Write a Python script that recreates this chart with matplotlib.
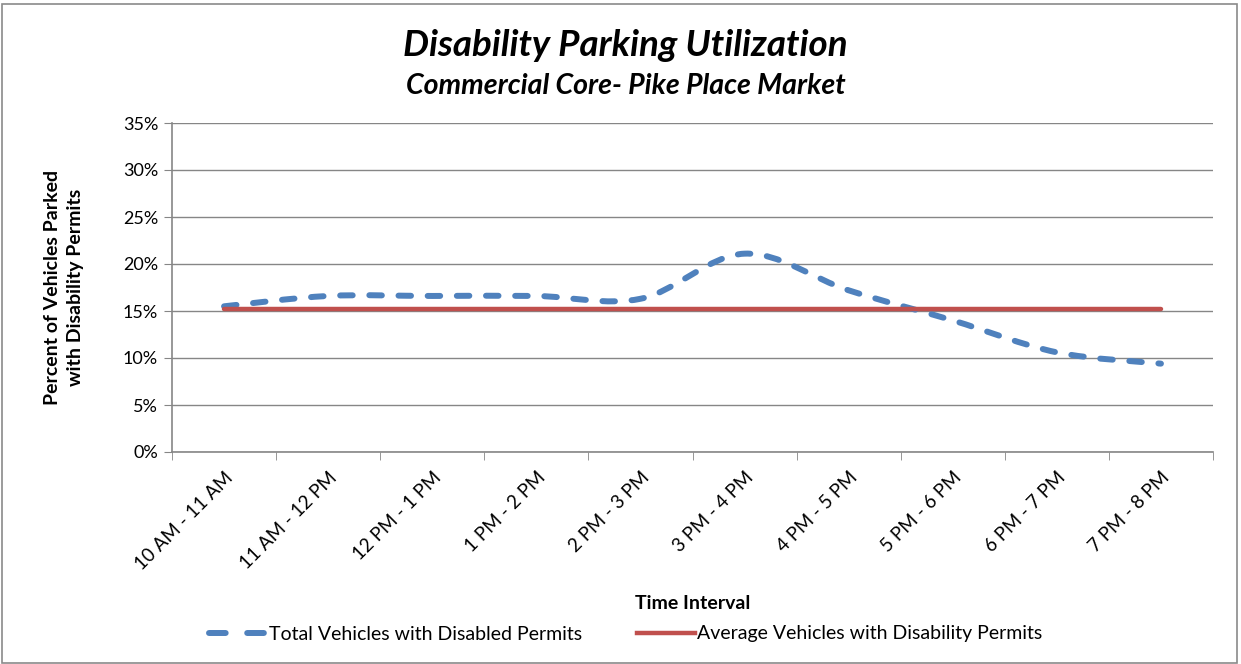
import matplotlib
matplotlib.use("Agg")
import matplotlib.pyplot as plt
from matplotlib.path import Path
from matplotlib.patches import PathPatch, Rectangle
from matplotlib.lines import Line2D
import numpy as np

plt.rcParams["font.family"] = ["Lato", "DejaVu Sans"]
plt.rcParams["lines.scale_dashes"] = False

intervals = ["10 AM - 11 AM", "11 AM - 12 PM", "12 PM - 1 PM", "1 PM - 2 PM",
             "2 PM - 3 PM", "3 PM - 4 PM", "4 PM - 5 PM", "5 PM - 6 PM",
             "6 PM - 7 PM", "7 PM - 8 PM"]
total_pct = [15.5, 16.6, 16.6, 16.6, 16.3, 21.1, 17.2, 14.0, 10.6, 9.4]
average_pct = [15.2] * 10

blue = "#4F81BD"
red = "#C0504D"
grid_c = "#868686"


def smooth_path(xs, ys):
    # Excel-style smoothed line as cubic bezier segments
    pts = np.column_stack([xs, ys]).astype(float)
    n = len(pts)
    verts = [pts[0]]
    codes = [Path.MOVETO]
    for i in range(n - 1):
        p0 = pts[i - 1] if i > 0 else pts[i]
        p1 = pts[i]
        p2 = pts[i + 1]
        p3 = pts[i + 2] if i + 2 < n else pts[i + 1]
        c1 = p1 + (p2 - p0) / 6
        c2 = p2 - (p3 - p1) / 6
        verts += [c1, c2, p2]
        codes += [Path.CURVE4] * 3
    return Path(verts, codes)


fig = plt.figure(figsize=(12.41, 6.64), dpi=100)
ax = fig.add_axes([172 / 1241, 1 - 452 / 664, (1213 - 172) / 1241, (452 - 123) / 664])

x = np.arange(len(intervals))
dash = (0, (9, 12))
patch = PathPatch(smooth_path(x, total_pct), facecolor="none", edgecolor=blue,
                  lw=4.3, linestyle=dash, zorder=3)
patch.set_capstyle("round")
ax.add_patch(patch)
ax.plot(x, average_pct, color=red, lw=3.2, solid_capstyle="round", zorder=4)

ax.set_xlim(-0.5, len(intervals) - 0.5)
ax.set_ylim(0, 35)
ax.set_yticks(range(0, 36, 5))
ax.set_yticklabels([f"{v}%" for v in range(0, 36, 5)], fontsize=13)
ax.set_xticks(x)
ax.set_xticklabels(intervals, rotation=45, ha="right", rotation_mode="anchor", fontsize=13.5)
ax.set_xticks(np.arange(-0.5, len(intervals)), minor=True)
ax.tick_params(axis="x", which="major", length=0, pad=12)
ax.tick_params(axis="x", which="minor", length=6, color=grid_c)
ax.tick_params(axis="y", length=6, color=grid_c, pad=4)
ax.grid(axis="y", color=grid_c, lw=1)
ax.set_axisbelow(True)
for s in ["top", "right"]:
    ax.spines[s].set_visible(False)
for s in ["left", "bottom"]:
    ax.spines[s].set_color(grid_c)
    ax.spines[s].set_linewidth(1.2)

ax.set_xlabel("Time Interval", fontsize=14, fontweight="bold", labelpad=16)
ax.set_ylabel("Percent of Vehicles Parked\nwith Disability Permits", fontsize=14,
              fontweight="bold", labelpad=28, linespacing=1.45)

fig.text(0.504, 1 - 46 / 664, "Disability Parking Utilization", ha="center", va="center",
         fontsize=26.5, fontweight="bold", style="italic")
fig.text(0.504, 1 - 86 / 664, "Commercial Core- Pike Place Market", ha="center", va="center",
         fontsize=20.5, fontweight="bold", style="italic")

handles = [Line2D([], [], color=blue, lw=4.3, linestyle=(0, (12, 15.5)), dash_capstyle="round"),
           Line2D([], [], color=red, lw=3.2)]
fig.legend(handles, ["Total Vehicles with Disabled Permits",
                     "Average Vehicles with Disability Permits"],
           loc="center", bbox_to_anchor=(0.504, 1 - 634 / 664), ncol=2, frameon=False,
           fontsize=14, handlelength=3.0, handletextpad=0.1, columnspacing=2.8)

fig.add_artist(Rectangle((0.002, 0.002), 0.995, 0.992, transform=fig.transFigure,
                         fill=False, edgecolor="#8a8a8a", lw=1.2))

fig.savefig("out.png", dpi=100)
